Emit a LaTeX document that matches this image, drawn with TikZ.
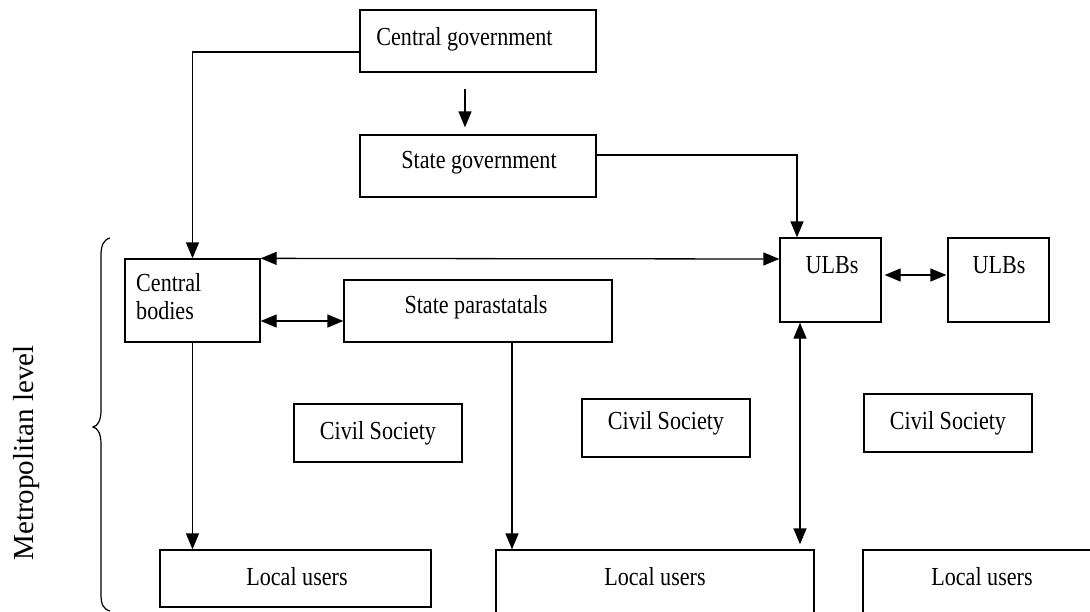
\documentclass[tikz,border=0pt]{standalone}
\usepackage{fontspec}
\setmainfont{Liberation Serif}[FakeStretch=0.85]
\newfontfamily\sidefont{Liberation Serif}
\usetikzlibrary{arrows.meta}
\begin{document}
\begin{tikzpicture}[x=1pt,y=-1pt,
  bx/.style={draw, line width=1.3pt, inner sep=0pt, rectangle},
  txt/.style={inner sep=0pt, font=\fontsize{26}{28}\selectfont},
  tip/.tip={Triangle[length=16pt,width=13pt]},
  arr/.style={line width=1.3pt, -tip},
  darr/.style={line width=1.3pt, tip-tip},
  brace/.style={line width=1.2pt}
]
\useasboundingbox (0,0) rectangle (1090,611);
\fill[white] (0,0) rectangle (1090,611);

% boxes
\node[bx, minimum width=236pt, minimum height=62pt] (cg) at (478,41) {};
\node[bx, minimum width=236pt, minimum height=62pt] (sg) at (478,166) {};
\node[bx, minimum width=135pt, minimum height=83pt] (cb) at (192.5,300.5) {};
\node[bx, minimum width=268pt, minimum height=62pt] (sp) at (478,311) {};
\node[bx, minimum width=101pt, minimum height=84pt] (u1) at (830.5,280) {};
\node[bx, minimum width=101pt, minimum height=84pt] (u2) at (998.5,280) {};
\node[bx, minimum width=168pt, minimum height=58pt] (cs1) at (378,433) {};
\node[bx, minimum width=168pt, minimum height=58pt] (cs2) at (666,428) {};
\node[bx, minimum width=168pt, minimum height=58pt] (cs3) at (948,423) {};
\node[bx, minimum width=271pt, minimum height=57pt] (lu1) at (295.5,578.5) {};
\node[bx, minimum width=318pt, minimum height=70pt] (lu2) at (655,585) {};
\node[bx, minimum width=240pt, minimum height=70pt] (lu3) at (983,585) {};

% texts
\node[txt] (cgt) at (464.5,39) {Central government};
\node[txt] (sgt) at (479,163) {State government};
\node[txt, align=left, anchor=north west] (cbt) at (136,273) {Central\\bodies};
\node[txt] (spt) at (476,307) {State parastatals};
\node[txt] (u1t) at (832,265) {ULBs};
\node[txt] (u2t) at (999,265) {ULBs};
\node[txt] (cs1t) at (378,433) {Civil Society};
\node[txt] (cs2t) at (666,423) {Civil Society};
\node[txt] (cs3t) at (948,423) {Civil Society};
\node[txt] (lu1t) at (297,577) {Local users};
\node[txt] (lu2t) at (655,577) {Local users};
\node[txt] (lu3t) at (982,577) {Local users};
\node[inner sep=0pt, rotate=90, font=\sidefont\fontsize{29}{31}\selectfont] (ml) at (27,453) {Metropolitan level};

% connectors
\draw[arr] ([yshift=-11pt]cg.west) -| (cb.north);
\draw[arr] ([xshift=-13pt,yshift=-16pt]cg.south) -- ([xshift=-13pt,yshift=7pt]sg.north);
\draw[arr] ([yshift=11pt]sg.east) -| ([xshift=-33.5pt]u1.north);
\draw[darr] (cb.north east) -- ([yshift=21pt]u1.west);
\draw[darr] ([yshift=-20.5pt]cb.east) -- ([yshift=-10pt]sp.west);
\draw[darr] ([xshift=3pt,yshift=5pt]u1.east) -- ([xshift=-1pt,yshift=5pt]u2.west);
\coordinate (ud) at ([xshift=-30.5pt]u1.south);
\coordinate (ue) at ([xshift=145pt,yshift=5pt]lu2.north);
\draw[darr] (ud) -- (ue);
\draw[arr] (cb.south) -- (cb.south |- lu1.north);
\coordinate (spd) at ([xshift=34pt]sp.south);
\draw[arr] (spd) -- (spd |- lu2.north);

% brace
\draw[brace] (110,238) .. controls (103,240) and (101,246) .. (101,256)
  -- (101,410) .. controls (101,420) and (98,426) .. (93,427)
  .. controls (98,428) and (101,434) .. (101,444)
  -- (101,594) .. controls (101,604) and (103,609) .. (110,611);
\end{tikzpicture}
\end{document}
